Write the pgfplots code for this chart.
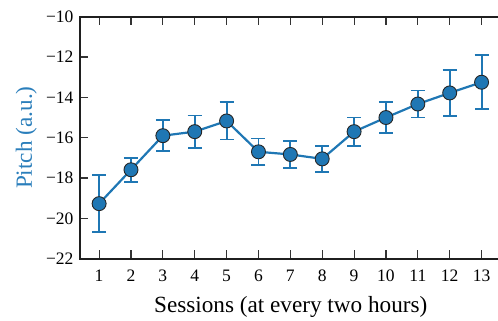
\documentclass[border=0pt]{standalone}
\usepackage{fontspec}
\setmainfont{Liberation Serif}
\usepackage{pgfplots}
\pgfplotsset{compat=1.18}
\definecolor{mpl}{HTML}{1F77B4}
\definecolor{ylab}{HTML}{2A7EBB}
\begin{document}
\begin{tikzpicture}
\begin{axis}[
  name=ax,
  scale only axis, width=417.5pt, height=242pt,
  xmin=0.4, xmax=13.5, ymin=-22, ymax=-10,
  axis line style={draw=none},
  xtick pos=both, ytick pos=left,
  xtick={1,...,13},
  ytick={-22,-20,-18,-16,-14,-12,-10},
  yticklabels={−22,−20,−18,−16,−14,−12,−10},
  tick align=inside,
  major tick length=8.5pt,
  tick style={line width=1.1pt, color=black!80},
  /pgf/number format/assume math mode=true,
  tick label style={font=\fontsize{17.5}{17.5}\selectfont},
  xticklabel style={anchor=base, yshift=-23pt},
  yticklabel style={anchor=east, xshift=-3pt},
  label style={font=\fontsize{23.2}{23.2}\selectfont},
  xlabel={Sessions (at every two hours)},
  xlabel style={at={(axis description cs:0.5,0)}, anchor=base, yshift=-53.5pt, xshift=2pt},
  ylabel={Pitch (a.u.)},
  ylabel style={color=ylab, at={(axis description cs:0,0.5)}, anchor=base, yshift=48pt},
  clip=false,
]
\addplot[
  color=mpl, line width=2.2pt,
  mark=*, mark size=7pt,
  mark options={fill=mpl, draw=black!85, line width=0.9pt},
  error bars/.cd, y dir=both, y explicit,
  error bar style={line width=1.9pt, color=mpl},
  error mark options={rotate=90, mark size=7pt, line width=1.9pt, color=mpl},
] coordinates {
 (1,-19.27) +- (0,1.40)
 (2,-17.59) +- (0,0.60)
 (3,-15.90) +- (0,0.78)
 (4,-15.70) +- (0,0.80)
 (5,-15.17) +- (0,0.92)
 (6,-16.70) +- (0,0.66)
 (7,-16.83) +- (0,0.68)
 (8,-17.05) +- (0,0.65)
 (9,-15.70) +- (0,0.70)
 (10,-15.00) +- (0,0.77)
 (11,-14.33) +- (0,0.67)
 (12,-13.78) +- (0,1.13)
 (13,-13.25) +- (0,1.33)
};
\draw[line width=2.2pt, color=black!88, line cap=rect]
  (axis description cs:1,1) -- (axis description cs:0,1)
  -- (axis description cs:0,0) -- (axis description cs:1,0);
\end{axis}
\pgfresetboundingbox
\path ([shift={(-80pt,-62.3pt)}]ax.south west) rectangle ([shift={(0.5pt,16.7pt)}]ax.north east);
\end{tikzpicture}
\end{document}
